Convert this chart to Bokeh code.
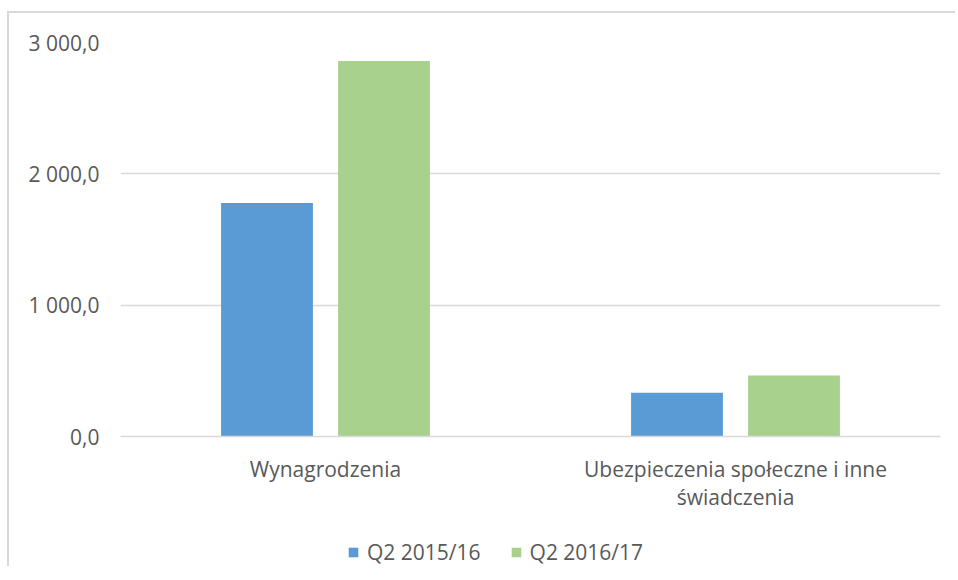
from bokeh.plotting import figure
from bokeh.layouts import column
from bokeh.models import FactorRange, Range1d, Legend, LegendItem, FixedTicker, CustomJSTickFormatter
from bokeh.transform import dodge
from bokeh.embed import file_html
from bokeh.resources import INLINE
from bokeh.models import ColumnDataSource

categories = ["Wynagrodzenia", "Ubezpieczenia społeczne i inne\nświadczenia"]
series_names = ["Q2 2015/16", "Q2 2016/17"]
q2_2015_16 = [1778.0, 334.0]
q2_2016_17 = [2860.0, 464.0]
y_ticks = [0, 1000, 2000, 3000]
colors = ["#5B9BD5", "#A9D18E"]

FONT = "Open Sans"
TXT = "#595959"
GRID = "#D9D9D9"

src = ColumnDataSource(dict(cat=categories, a=q2_2015_16, b=q2_2016_17))

W = 946
p = figure(width=W, height=503, x_range=FactorRange(*categories, range_padding=0),
           y_range=Range1d(0, 3000), output_backend="svg", toolbar_location=None,
           min_border_left=111, min_border_right=15, min_border_top=29, min_border_bottom=80)

r1 = p.vbar(x=dodge("cat", -0.1427, range=p.x_range), top="a", width=0.224, source=src,
            fill_color=colors[0], line_color=None)
r2 = p.vbar(x=dodge("cat", 0.1427, range=p.x_range), top="b", width=0.224, source=src,
            fill_color=colors[1], line_color=None)

p.outline_line_color = None
p.xgrid.grid_line_color = None
p.ygrid.grid_line_color = GRID
p.ygrid.grid_line_width = 1.5
p.ygrid.ticker = FixedTicker(ticks=y_ticks)

p.yaxis.ticker = FixedTicker(ticks=y_ticks)
p.yaxis.formatter = CustomJSTickFormatter(code="""
const s = tick.toFixed(1).replace('.', ',');
const parts = s.split(',');
const ip = parts[0].replace(/\\B(?=(\\d{3})+(?!\\d))/g, ' ');
return ip + ',' + parts[1];
""")
p.yaxis.axis_line_color = None
p.yaxis.major_tick_line_color = None
p.yaxis.minor_tick_line_color = None
p.yaxis.major_label_text_font = FONT
p.yaxis.major_label_text_font_size = "21px"
p.yaxis.major_label_text_color = TXT
p.yaxis.major_label_standoff = 15

p.xaxis.axis_line_color = GRID
p.xaxis.axis_line_width = 1.5
p.xaxis.major_tick_line_color = None
p.xaxis.minor_tick_line_color = None
p.xaxis.major_label_text_font = FONT
p.xaxis.major_label_text_font_size = "21px"
p.xaxis.major_label_text_color = TXT
p.xaxis.major_label_text_line_height = 1.0
p.xaxis.major_label_standoff = 12

# legend in its own strip below the chart (its renderers are hidden, only swatches show)
lf = figure(width=W, height=50, x_range=FactorRange(*categories, range_padding=0),
            y_range=Range1d(-20, -10),
            output_backend="svg", toolbar_location=None,
            min_border_left=0, min_border_right=0, min_border_top=0, min_border_bottom=0)
lf.axis.visible = False
lf.grid.visible = False
lf.outline_line_color = None
l1 = lf.vbar(x=dodge("cat", -0.1427, range=lf.x_range), top="a", width=0.224, source=src,
             fill_color=colors[0], line_color=None)
l2 = lf.vbar(x=dodge("cat", 0.1427, range=lf.x_range), top="b", width=0.224, source=src,
             fill_color=colors[1], line_color=None)
l1.visible = False
l2.visible = False

legend = Legend(items=[LegendItem(label=series_names[0], renderers=[l1]),
                       LegendItem(label=series_names[1], renderers=[l2])],
                orientation="horizontal", location=(227, 0),
                label_text_font=FONT, label_text_font_size="21px", label_text_color=TXT,
                glyph_width=12, glyph_height=12, spacing=29, label_standoff=8,
                border_line_color=None, background_fill_alpha=0, margin=0, padding=0,
                inactive_fill_alpha=0)
lf.add_layout(legend, "center")

layout = column(p, lf, spacing=0)
layout.margin = (11, 0, 0, 7)
layout.styles = {"border-left": "2px solid #D9D9D9", "border-top": "2px solid #D9D9D9"}

open("out.html", "w").write(file_html(layout, INLINE))
